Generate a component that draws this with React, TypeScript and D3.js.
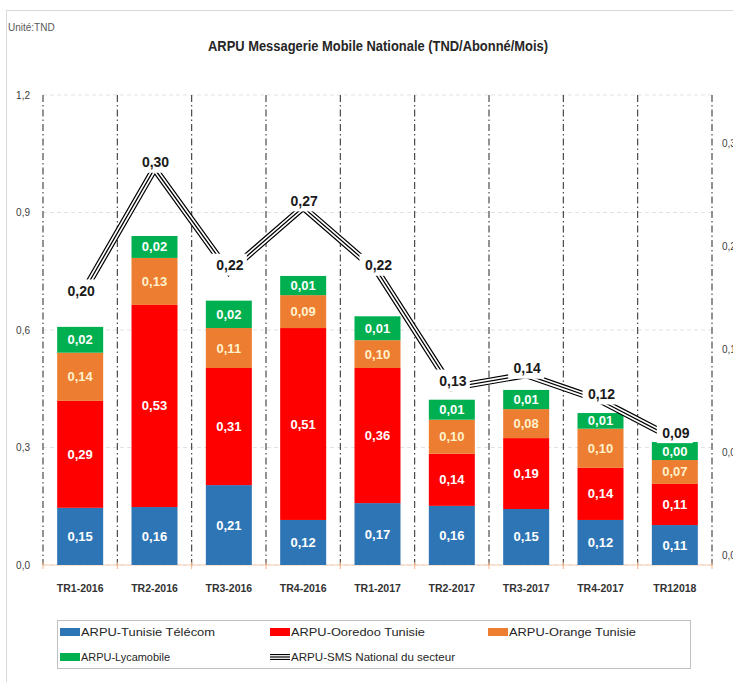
import React from 'react';
import * as d3 from 'd3';

const categories = ['TR1-2016', 'TR2-2016', 'TR3-2016', 'TR4-2016', 'TR1-2017', 'TR2-2017', 'TR3-2017', 'TR4-2017', 'TR12018'];
const tunisieTelecom = [0.146, 0.148, 0.204, 0.115, 0.158, 0.151, 0.143, 0.115, 0.102];
const ooredoo = [0.273, 0.516, 0.299, 0.49, 0.345, 0.133, 0.181, 0.133, 0.105];
const orange = [0.123, 0.12, 0.102, 0.084, 0.071, 0.087, 0.074, 0.1, 0.061];
const lycamobile = [0.066, 0.056, 0.07, 0.049, 0.061, 0.051, 0.049, 0.04, 0.046];
const ttLabels = ['0,15', '0,16', '0,21', '0,12', '0,17', '0,16', '0,15', '0,12', '0,11'];
const ooLabels = ['0,29', '0,53', '0,31', '0,51', '0,36', '0,14', '0,19', '0,14', '0,11'];
const orLabels = ['0,14', '0,13', '0,11', '0,09', '0,10', '0,10', '0,08', '0,10', '0,07'];
const lyLabels = ['0,02', '0,02', '0,02', '0,01', '0,01', '0,01', '0,01', '0,01', '0,00'];
const smsNational = [0.2, 0.3, 0.22, 0.27, 0.22, 0.13, 0.14, 0.12, 0.09];
const leftTicks = [0, 0.3, 0.6, 0.9, 1.2];
const rightTicks = [0, 0.08, 0.16, 0.24, 0.32];

const FONT = "'Liberation Sans Narrow', 'Liberation Sans', Arial, sans-serif";
const keys = ['tt', 'oo', 'or', 'ly'];
const colors: Record<string, string> = { tt: '#2e75b6', oo: '#ff0000', or: '#ed7d31', ly: '#00b050' };
const labelSets: Record<string, string[]> = { tt: ttLabels, oo: ooLabels, or: orLabels, ly: lyLabels };
const labelColors: Record<string, string> = { tt: '#ffffff', oo: '#ffffff', or: '#fff2cc', ly: '#ffffff' };

export default function App() {
  const x = d3.scaleBand<string>().domain(categories).range([43, 712]).paddingInner(0).paddingOuter(0);
  const y = d3.scaleLinear().domain([0, 1.2]).range([565, 95]);
  const y2 = d3.scaleLinear().domain([0, 0.32]).range([555, 143]);
  const bw = x.bandwidth();
  const barW = 46;

  const rows = categories.map((c, i) => ({ cat: c, tt: tunisieTelecom[i], oo: ooredoo[i], or: orange[i], ly: lycamobile[i] }));
  const stacked = d3.stack<any>().keys(keys)(rows);
  const cx = (c: string) => (x(c) as number) + bw / 2;

  const line = d3.line<number>().x((_, i) => cx(categories[i])).y((v) => y2(v));
  const linePath = line(smsNational) || '';

  const boundaries = d3.range(categories.length + 1).map((i) => 43 + i * bw);

  return (
    <svg width={733} height={682} style={{ position: 'absolute', left: 0, top: 0, background: '#fff' }} fontFamily={FONT}>
      <rect x={0} y={0} width={733} height={682} fill="#ffffff" />
      <rect x={6.5} y={10.5} width={760} height={700} fill="none" stroke="#d9d9d9" />
      <text x={8} y={31} fontSize={10} fill="#595959">Unité:TND</text>
      <text x={378} y={51} fontSize={14} fontWeight="bold" fill="#262626" textAnchor="middle" textLength={340} lengthAdjust="spacingAndGlyphs">
        ARPU Messagerie Mobile Nationale (TND/Abonné/Mois)
      </text>

      {leftTicks.map((t) => (
        <line key={'g' + t} x1={43} x2={712} y1={y(t)} y2={y(t)} stroke="#e3e3e3" strokeDasharray="4,3" />
      ))}
      {boundaries.map((b, i) => (
        <line key={'v' + i} x1={b} x2={b} y1={95} y2={565} stroke="#3a3a3a" strokeWidth={1.1} strokeDasharray="7,3,1.5,3" />
      ))}
      <line x1={43} x2={712} y1={565} y2={565} stroke="#f8cbad" />
      {boundaries.map((b, i) => (
        <line key={'t' + i} x1={b} x2={b} y1={562} y2={569} stroke="#f4b183" />
      ))}

      {leftTicks.map((t) => (
        <text key={'l' + t} x={30} y={y(t) + 3.5} fontSize={10} fill="#404040" textAnchor="end">
          {d3.format('.1f')(t).replace('.', ',')}
        </text>
      ))}
      {rightTicks.map((t) => (
        <text key={'r' + t} x={722} y={y2(t) + 3.5} fontSize={10} fill="#404040">
          {d3.format('.2f')(t).replace('.', ',')}
        </text>
      ))}

      {stacked.map((s) => (
        <g key={s.key}>
          {s.map((d, i) => (
            <rect key={i} x={cx(categories[i]) - barW / 2} y={y(d[1])} width={barW} height={y(d[0]) - y(d[1])} fill={colors[s.key]} />
          ))}
        </g>
      ))}
      {stacked.map((s) => (
        <g key={'lab' + s.key}>
          {s.map((d, i) => (
            <text key={i} x={cx(categories[i])} y={(y(d[0]) + y(d[1])) / 2 + 4.5} fontSize={13} fontWeight="bold" fill={labelColors[s.key]} textAnchor="middle">
              {labelSets[s.key][i]}
            </text>
          ))}
        </g>
      ))}

      <path d={linePath} fill="none" stroke="#000" strokeWidth={7} strokeLinejoin="miter" />
      <path d={linePath} fill="none" stroke="#fff" strokeWidth={4.6} strokeLinejoin="miter" />
      <path d={linePath} fill="none" stroke="#000" strokeWidth={1.3} strokeLinejoin="miter" />
      {smsNational.map((v, i) => (
        <g key={'sl' + i}>
          <rect x={cx(categories[i]) - 18} y={y2(v) - 18} width={36} height={22} fill="#fff" />
          <text x={cx(categories[i]) + 1} y={y2(v) - 1.5} fontSize={14} fontWeight="bold" fill="#1a1a1a" textAnchor="middle">
            {d3.format('.2f')(v).replace('.', ',')}
          </text>
        </g>
      ))}

      {categories.map((c) => (
        <text key={'x' + c} x={cx(c)} y={592} fontSize={10.5} fontWeight="bold" fill="#333" textAnchor="middle">{c}</text>
      ))}

      <rect x={57.5} y={620.5} width={633} height={48} fill="#fff" stroke="#bfbfbf" />
      <rect x={60} y={628} width={20} height={8} fill={colors.tt} />
      <text x={81} y={636} fontSize={11.5} fill="#262626" textLength={134} lengthAdjust="spacingAndGlyphs">ARPU-Tunisie Télécom</text>
      <rect x={270} y={628} width={20} height={8} fill={colors.oo} />
      <text x={291} y={636} fontSize={11.5} fill="#262626" textLength={134} lengthAdjust="spacingAndGlyphs">ARPU-Ooredoo Tunisie</text>
      <rect x={488} y={628} width={20} height={8} fill={colors.or} />
      <text x={509} y={636} fontSize={11.5} fill="#262626" textLength={127} lengthAdjust="spacingAndGlyphs">ARPU-Orange Tunisie</text>
      <rect x={60} y={653} width={20} height={8} fill={colors.ly} />
      <text x={81} y={661} fontSize={11.5} fill="#262626" textLength={89} lengthAdjust="spacingAndGlyphs">ARPU-Lycamobile</text>
      <line x1={270} x2={290} y1={657} y2={657} stroke="#000" strokeWidth={6} />
      <line x1={270} x2={290} y1={657} y2={657} stroke="#fff" strokeWidth={3.8} />
      <line x1={270} x2={290} y1={657} y2={657} stroke="#000" strokeWidth={1.2} />
      <text x={291} y={661} fontSize={11.5} fill="#262626" textLength={164} lengthAdjust="spacingAndGlyphs">ARPU-SMS National  du secteur</text>
    </svg>
  );
}
